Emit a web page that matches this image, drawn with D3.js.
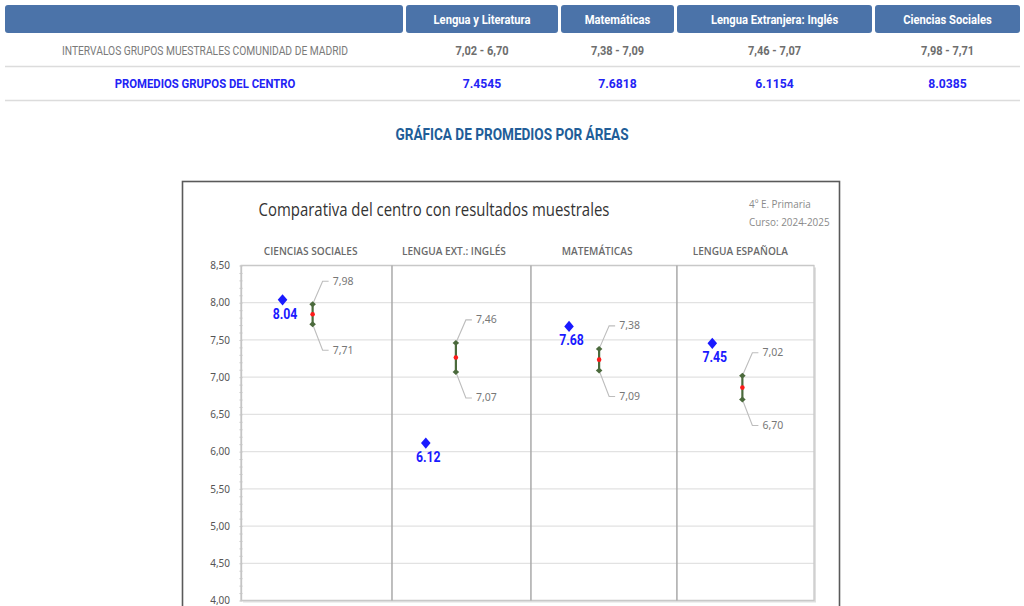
<!DOCTYPE html>
<html><head><meta charset="utf-8">
<script src="https://cdn.jsdelivr.net/npm/d3@7"></script>
<style>html,body{margin:0;padding:0;background:#fff;}svg{display:block;}</style>
</head><body>
<svg id="c" width="1024" height="606"></svg>
<script>
// ---------- DATA ----------
const tableHeaders = ["Lengua y Literatura", "Matemáticas", "Lengua Extranjera: Inglés", "Ciencias Sociales"];
const tableRowLabels = ["INTERVALOS GRUPOS MUESTRALES COMUNIDAD DE MADRID", "PROMEDIOS GRUPOS DEL CENTRO"];
const tableIntervals = ["7,02 - 6,70", "7,38 - 7,09", "7,46 - 7,07", "7,98 - 7,71"];
const tableMeans = ["7.4545", "7.6818", "6.1154", "8.0385"];
const sectionTitle = "GRÁFICA DE PROMEDIOS POR ÁREAS";

const chartTitle = "Comparativa del centro con resultados muestrales";
const chartSubtitle = ["4º E. Primaria", "Curso: 2024-2025"];
const chartCategories = ["CIENCIAS SOCIALES", "LENGUA EXT.: INGLÉS", "MATEMÁTICAS", "LENGUA ESPAÑOLA"];
const upperValues = [7.98, 7.46, 7.38, 7.02];
const lowerValues = [7.71, 7.07, 7.09, 6.70];
const centreValues = [8.0385, 6.1154, 7.6818, 7.4545];
const yTicks = [4.0, 4.5, 5.0, 5.5, 6.0, 6.5, 7.0, 7.5, 8.0, 8.5];
const dividerPositions = [1.054, 2.024, 3.043];

// ---------- HELPERS ----------
const svg = d3.select("#c");
const comma2 = v => d3.format(".2f")(v).replace(".", ",");
function txt(g, x, y, s, o) {
  o = o || {};
  return g.append("text")
    .attr("transform", `translate(${x},${y}) scale(${o.sx || 1},1)`)
    .attr("text-anchor", o.anchor || "middle")
    .attr("font-family", o.family || "Roboto, 'Noto Sans', sans-serif")
    .attr("font-size", o.size || 13)
    .attr("font-weight", o.weight || "normal")
    .attr("fill", o.fill || "#333")
    .text(s);
}

// ---------- TABLE ----------
const tbl = svg.append("g");
const firstCol = [5, 403];
const cols = [[406, 558], [561, 674], [677, 872], [875, 1020]];
const headerBlue = "#4b73a9";
tbl.append("rect").attr("x", firstCol[0]).attr("y", 5).attr("width", firstCol[1] - firstCol[0]).attr("height", 28)
  .attr("rx", 3).attr("fill", headerBlue);
cols.forEach((c, i) => {
  tbl.append("rect").attr("x", c[0]).attr("y", 5).attr("width", c[1] - c[0]).attr("height", 28)
    .attr("rx", 3).attr("fill", headerBlue);
  txt(tbl, (c[0] + c[1]) / 2, 23.5, tableHeaders[i], {weight: "bold", fill: "#fff", size: 13.5, sx: 0.83});
  txt(tbl, (c[0] + c[1]) / 2, 54.5, tableIntervals[i], {weight: "bold", fill: "#6e6e6e", size: 13, sx: 0.85});
  txt(tbl, (c[0] + c[1]) / 2, 88, tableMeans[i], {weight: "bold", fill: "#2323f5", size: 13.5, sx: 0.9});
});
txt(tbl, 205, 54.5, tableRowLabels[0], {fill: "#7a7a7a", size: 13, sx: 0.79});
txt(tbl, 205, 88, tableRowLabels[1], {weight: "bold", fill: "#2323f5", size: 13.5, sx: 0.84});
[66.5, 100.5].forEach(y => tbl.append("line").attr("x1", 5).attr("x2", 1020).attr("y1", y).attr("y2", y)
  .attr("stroke", "#dcdcdc").attr("stroke-width", 1.5));

txt(svg, 512, 139.5, sectionTitle, {weight: "bold", fill: "#215d98", size: 16, sx: 0.85});

// ---------- CHART ----------
const box = svg.append("g");
box.append("rect").attr("x", 182.5).attr("y", 181.5).attr("width", 657).attr("height", 440)
  .attr("fill", "#fff").attr("stroke", "#5a5a5a").attr("stroke-width", 1.6);

txt(box, 434, 215.5, chartTitle, {family: "'Open Sans', 'Noto Sans', sans-serif", size: 18, fill: "#333", sx: 0.83});
txt(box, 749, 208, chartSubtitle[0], {anchor: "start", family: "'Open Sans', 'Noto Sans', sans-serif", size: 11, fill: "#8a8a8a", sx: 0.9});
txt(box, 749, 226, chartSubtitle[1], {anchor: "start", family: "'Open Sans', 'Noto Sans', sans-serif", size: 11, fill: "#8a8a8a", sx: 0.9});

const plot = {left: 241, right: 814, top: 265.5, bottom: 600.5};
const x = d3.scaleLinear().domain([0, 4]).range([plot.left, plot.right]);
const y = d3.scaleLinear().domain([4, 8.5]).range([plot.bottom, plot.top]);

// plot shadow
box.append("rect").attr("x", plot.left + 2).attr("y", plot.top + 2).attr("width", plot.right - plot.left)
  .attr("height", plot.bottom - plot.top).attr("fill", "#e0e0e0");
box.append("rect").attr("x", plot.left).attr("y", plot.top).attr("width", plot.right - plot.left)
  .attr("height", plot.bottom - plot.top).attr("fill", "#fff");

// gridlines
box.append("g").selectAll("line").data(yTicks).join("line")
  .attr("x1", plot.left).attr("x2", plot.right)
  .attr("y1", d => y(d)).attr("y2", d => y(d))
  .attr("stroke", "#e2e2e2").attr("stroke-width", 1.3);

// y axis
const yAxis = d3.axisLeft(y).tickValues(yTicks).tickFormat(comma2).tickSize(0).tickPadding(11);
const ya = box.append("g").attr("transform", `translate(${plot.left},0)`).call(yAxis);
ya.select(".domain").attr("stroke", "#bdbdbd").attr("stroke-width", 1.3);
ya.selectAll("text").attr("font-family", "'Noto Sans', 'Open Sans', sans-serif").attr("font-size", 10).attr("fill", "#555");
const minor = d3.range(40, 86).map(v => v / 10);
const yMinor = d3.axisLeft(y).tickValues(minor).tickFormat("").tickSize(3);
const ym = box.append("g").attr("transform", `translate(${plot.left + 1.5},0)`).call(yMinor);
ym.select(".domain").remove();
ym.selectAll("line").attr("stroke", "#c4c4c4");

// plot border
box.append("rect").attr("x", plot.left).attr("y", plot.top).attr("width", plot.right - plot.left)
  .attr("height", plot.bottom - plot.top).attr("fill", "none").attr("stroke", "#c8c8c8").attr("stroke-width", 1.3);

// dividers
box.append("g").selectAll("line").data(dividerPositions).join("line")
  .attr("x1", d => x(d)).attr("x2", d => x(d)).attr("y1", plot.top).attr("y2", plot.bottom)
  .attr("stroke", "#a9a9a9").attr("stroke-width", 1.5);

// category headers
chartCategories.forEach((c, i) => {
  txt(box, x(i + 0.5) - 2, 255, c, {family: "'Open Sans', 'Noto Sans', sans-serif", size: 11, weight: "600", fill: "#6a6a6a", sx: 0.92});
});

// ranges
const green = "#4b6a3c";
const gDiamond = d3.symbol().type(d3.symbolDiamond).size(26);
const bDiamond = d3.symbol().type(d3.symbolDiamond).size(60);
chartCategories.forEach((c, i) => {
  const cx = x(i + 0.5);
  const yu = y(upperValues[i]), yl = y(lowerValues[i]);
  const ym2 = y((upperValues[i] + lowerValues[i]) / 2);
  // leader lines
  box.append("path").attr("d", `M${cx},${yu} L${cx + 10},${yu - 23} L${cx + 16},${yu - 23}`)
    .attr("fill", "none").attr("stroke", "#bdbdbd").attr("stroke-width", 1.1);
  box.append("path").attr("d", `M${cx},${yl} L${cx + 10},${yl + 26} L${cx + 16},${yl + 26}`)
    .attr("fill", "none").attr("stroke", "#bdbdbd").attr("stroke-width", 1.1);
  txt(box, cx + 20, yu - 19.5, comma2(upperValues[i]), {anchor: "start", family: "'Noto Sans', 'Open Sans', sans-serif", size: 10.5, fill: "#777"});
  txt(box, cx + 20, yl + 29.5, comma2(lowerValues[i]), {anchor: "start", family: "'Noto Sans', 'Open Sans', sans-serif", size: 10.5, fill: "#777"});
  // range bar
  box.append("line").attr("x1", cx).attr("x2", cx).attr("y1", yu).attr("y2", yl)
    .attr("stroke", green).attr("stroke-width", 2.2);
  [yu, yl].forEach(yy => box.append("path").attr("d", gDiamond)
    .attr("transform", `translate(${cx},${yy}) scale(1.2,0.62)`).attr("fill", green));
  box.append("circle").attr("cx", cx).attr("cy", ym2).attr("r", 2.3).attr("fill", "#ff1a1a");
  // centre mean
  const dx = x(i + 0.5 - 0.21), dy = y(centreValues[i]);
  box.append("path").attr("d", bDiamond).attr("transform", `translate(${dx},${dy}) scale(1.15,0.78)`).attr("fill", "#1a1aff");
  txt(box, dx + 2.5, dy + 19, d3.format(".2f")(centreValues[i]), {weight: "bold", size: 15, fill: "#1a1aff", sx: 0.82});
});
</script>
</body></html>
